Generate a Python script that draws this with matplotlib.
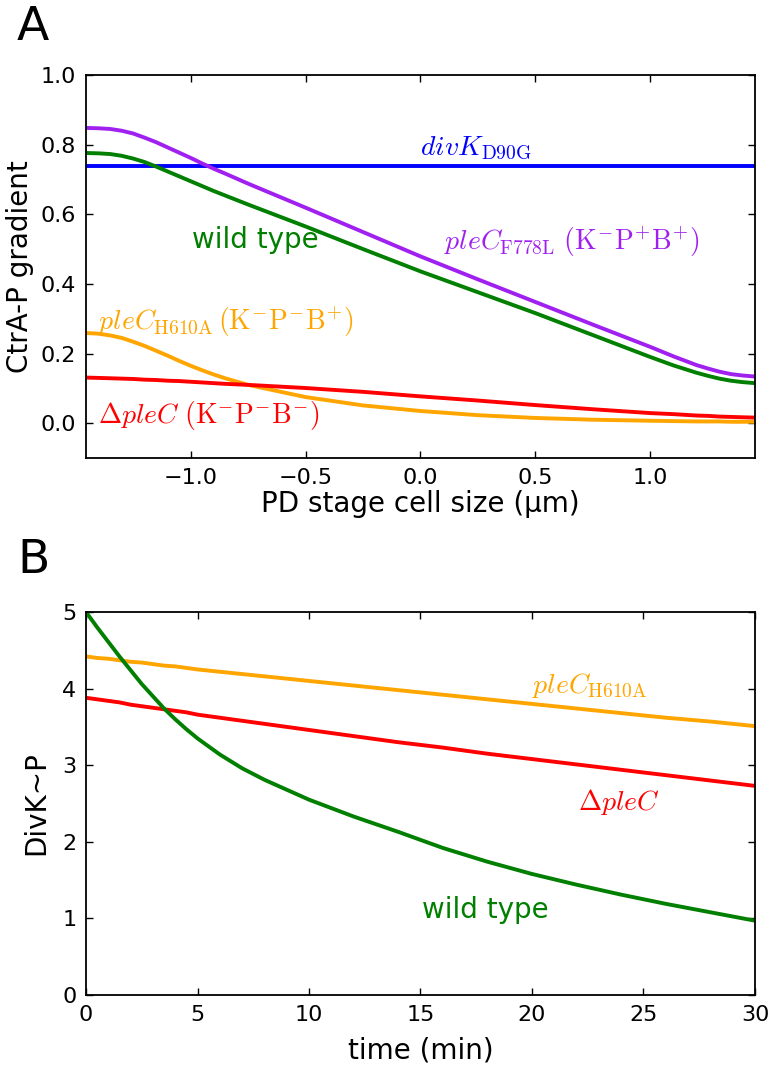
import matplotlib
matplotlib.use('Agg')
import matplotlib.pyplot as plt

plt.rcParams['mathtext.fontset'] = 'cm'
plt.rcParams['font.family'] = 'DejaVu Sans'

# panel A: CtrA-P gradient along the cell
cell_x = [-1.455, -1.4, -1.35, -1.3, -1.25, -1.2, -1.15, -1.1, -1.05, -1.0, -0.95, -0.9,
          -0.85, -0.75, -0.5, -0.25, 0.0, 0.25, 0.5, 0.75, 1.0, 1.1, 1.2, 1.25, 1.3,
          1.35, 1.4, 1.455]
ctra_f778l = [0.848, 0.847, 0.845, 0.840, 0.832, 0.820, 0.807, 0.792, 0.777, 0.762, 0.746, 0.731,
              0.717, 0.688, 0.619, 0.549, 0.479, 0.413, 0.348, 0.283, 0.219, 0.192, 0.167, 0.157, 0.148,
              0.141, 0.137, 0.134]
ctra_wt = [0.776, 0.775, 0.773, 0.768, 0.760, 0.750, 0.737, 0.723, 0.709, 0.695, 0.681, 0.667,
           0.654, 0.628, 0.565, 0.500, 0.436, 0.376, 0.316, 0.253, 0.190, 0.166, 0.145, 0.136, 0.128,
           0.122, 0.118, 0.115]
ctra_h610a = [0.259, 0.257, 0.252, 0.245, 0.234, 0.222, 0.208, 0.194, 0.179, 0.165, 0.152, 0.140,
              0.129, 0.110, 0.075, 0.051, 0.035, 0.023, 0.015, 0.010, 0.007, 0.006, 0.005, 0.005, 0.005,
              0.004, 0.004, 0.004]
ctra_dplec = [0.131, 0.130, 0.129, 0.128, 0.127, 0.125, 0.124, 0.122, 0.121, 0.119, 0.117, 0.115,
              0.113, 0.110, 0.101, 0.090, 0.077, 0.065, 0.052, 0.040, 0.029, 0.026, 0.022, 0.021, 0.019,
              0.018, 0.017, 0.016]
ctra_d90g = [0.74] * len(cell_x)

# panel B: DivK~P over time
time_min = [0, 0.5, 1, 1.5, 2, 2.5, 3, 3.5, 4, 4.5, 5, 6, 7, 8, 10, 12, 14, 16, 18, 20,
            22, 24, 26, 28, 30]
divk_wt = [5.00, 4.80, 4.61, 4.42, 4.24, 4.06, 3.90, 3.74, 3.60, 3.47, 3.35, 3.14, 2.96, 2.81,
           2.55, 2.33, 2.13, 1.92, 1.74, 1.58, 1.44, 1.31, 1.19, 1.08, 0.97]
divk_h610a = [4.42, 4.40, 4.39, 4.37, 4.35, 4.34, 4.32, 4.30, 4.29, 4.27, 4.25, 4.22, 4.19, 4.16,
              4.10, 4.04, 3.98, 3.92, 3.86, 3.80, 3.74, 3.68, 3.62, 3.57, 3.51]
divk_dplec = [3.88, 3.86, 3.84, 3.82, 3.79, 3.77, 3.75, 3.73, 3.71, 3.69, 3.66, 3.62, 3.58, 3.54,
              3.46, 3.38, 3.30, 3.23, 3.15, 3.08, 3.01, 2.94, 2.87, 2.80, 2.73]

GREEN = '#007f00'
BLUE = '#0000ff'
RED = '#ff0000'
ORANGE = '#ffa500'
PURPLE = '#a020f0'
LW = 2.8

fig = plt.figure(figsize=(7.72, 10.67), dpi=100)
W, H = 772.0, 1067.0
axA = fig.add_axes([86 / W, 1 - 458 / H, 669 / W, 383 / H])
axB = fig.add_axes([86 / W, 1 - 995 / H, 669 / W, 383 / H])

for ax in (axA, axB):
    ax.tick_params(direction='in', top=True, right=True, length=5, width=1,
                   labelsize=16, pad=7)
    for s in ax.spines.values():
        s.set_linewidth(1.3)

# A
axA.plot(cell_x, ctra_d90g, color=BLUE, lw=LW)
axA.plot(cell_x, ctra_f778l, color=PURPLE, lw=LW)
axA.plot(cell_x, ctra_wt, color=GREEN, lw=LW)
axA.plot(cell_x, ctra_h610a, color=ORANGE, lw=LW)
axA.plot(cell_x, ctra_dplec, color=RED, lw=LW)
axA.set_xlim(-1.455, 1.455)
axA.set_ylim(-0.1, 1.0)
axA.set_xticks([-1.0, -0.5, 0.0, 0.5, 1.0])
axA.set_yticks([0.0, 0.2, 0.4, 0.6, 0.8, 1.0])
axA.set_xlabel('PD stage cell size (µm)', fontsize=20)
axA.set_ylabel('CtrA-P gradient', fontsize=20)
axA.xaxis.set_label_coords(0.5, -0.084)
axA.yaxis.set_label_coords(-0.078, 0.5)

axA.text(0.0, 0.77, r'$divK_{\rm D90G}$', color=BLUE, fontsize=20)
axA.text(0.104, 0.497, r'$pleC_{\rm F778L}\ \rm (K^{-}P^{+}B^{+})$', color=PURPLE, fontsize=20)
axA.text(-0.996, 0.503, 'wild type', color=GREEN, fontsize=20)
axA.text(-1.404, 0.268, r'$pleC_{\rm H610A}\,\rm (K^{-}P^{-}B^{+})$', color=ORANGE, fontsize=20)
axA.text(-1.404, 0.0, r'$\Delta pleC\ \rm (K^{-}P^{-}B^{-})$', color=RED, fontsize=20)

# B
axB.plot(time_min, divk_h610a, color=ORANGE, lw=LW)
axB.plot(time_min, divk_dplec, color=RED, lw=LW)
axB.plot(time_min, divk_wt, color=GREEN, lw=LW)
axB.set_xlim(0, 30)
axB.set_ylim(0, 5)
axB.set_xticks([0, 5, 10, 15, 20, 25, 30])
axB.set_yticks([0, 1, 2, 3, 4, 5])
axB.set_xlabel('time (min)', fontsize=20)
axB.set_ylabel('DivK~P', fontsize=20)
axB.xaxis.set_label_coords(0.5, -0.108)
axB.yaxis.set_label_coords(-0.054, 0.5)

axB.text(20.0, 3.94, r'$pleC_{\rm H610A}$', color=ORANGE, fontsize=20)
axB.text(22.06, 2.415, r'$\Delta pleC$', color=RED, fontsize=20)
axB.text(15.07, 1.005, 'wild type', color=GREEN, fontsize=20)

fig.text(17 / W, 1 - 40 / H, 'A', fontsize=34)
fig.text(17 / W, 1 - 573 / H, 'B', fontsize=34)

fig.savefig('out.png', dpi=100)
